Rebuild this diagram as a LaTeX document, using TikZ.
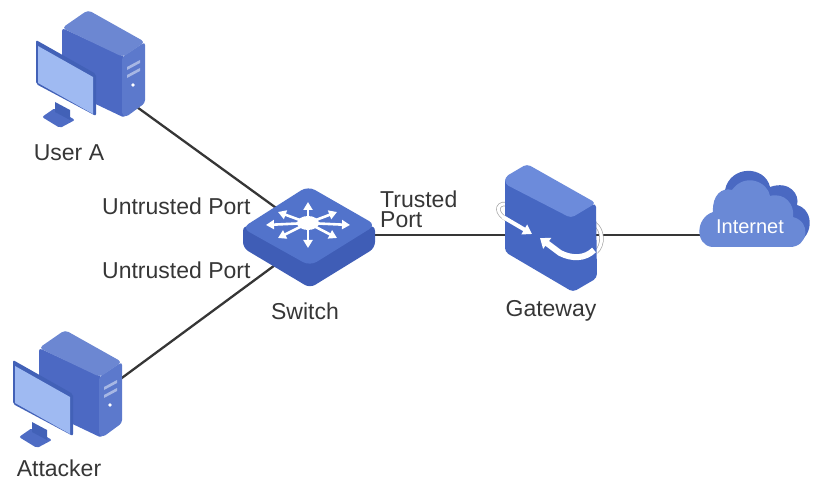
\documentclass[tikz,border=0pt]{standalone}
\usepackage{fontspec}
\setmainfont{Liberation Sans}
\usetikzlibrary{arrows.meta}

\definecolor{towertop}{HTML}{6C87D2}
\definecolor{towerleft}{HTML}{4C69C3}
\definecolor{towerright}{HTML}{5C79CC}
\definecolor{screenblue}{HTML}{9FBAF2}
\definecolor{framedark}{HTML}{4261B7}
\definecolor{standblue}{HTML}{4E6CC4}
\definecolor{switchtop}{HTML}{5273CB}
\definecolor{switchside}{HTML}{3F5DB6}
\definecolor{gatetop}{HTML}{6C8BDB}
\definecolor{gatebody}{HTML}{4667C2}
\definecolor{cloudback}{HTML}{4A69C2}
\definecolor{cloudfront}{HTML}{6A89D6}
\definecolor{inktext}{HTML}{363636}

\tikzset{
  link/.style={draw=inktext,line width=2.3pt},
  caption/.style={text=inktext,font=\fontsize{23}{26}\selectfont,inner sep=0pt},
  spoke/.style={white,line width=2.6pt,-{Triangle[length=8pt,width=9pt]}},
  pc/.pic={
    % tower
    \fill[towerleft,rounded corners=3pt] (62,28) -- (125,57) -- (125,118) -- (62,88) -- cycle;
    \fill[towerright,rounded corners=3pt] (122,57) -- (145,42) -- (145,103) -- (126,117) -- (122,115) -- cycle;
    \fill[towertop,rounded corners=4pt] (62,28) -- (88,10) -- (145,42) -- (123,57) -- cycle;
    \fill[towertop!60!white] (127,67) -- (140,60) -- (140,63) -- (127,70) -- cycle;
    \fill[towertop!60!white] (127,75) -- (140,68) -- (140,71) -- (127,78) -- cycle;
    \fill[white] (133,85) circle (1.8);
    % stand
    \fill[standblue,rounded corners=2pt] (42,117) -- (55,108) -- (75,120) -- (60,128) -- cycle;
    \fill[framedark] (55,102) -- (70,110) -- (70,120) -- (55,112) -- cycle;
    % monitor
    \fill[framedark,rounded corners=2pt] (36,40) -- (96,74) -- (96,116) -- (36,84) -- cycle;
    \fill[screenblue] (38,46) -- (93,77) -- (93,114) -- (38,83) -- cycle;
  },
  switchbox/.pic={
    \fill[switchside,rounded corners=6pt] (243,225) -- (243,248) -- (310,288) -- (375,248) -- (375,225) -- (310,240) -- cycle;
    \fill[switchtop,rounded corners=8pt] (308,186) -- (242,228) -- (310,266) -- (376,225) -- cycle;
    \fill[white] (308,223) ellipse (11 and 7);
    \foreach \tipx/\tipy in {308/202,308/248,266/225,350/225,278/212,337/212,278/238,337/238}
      \draw[spoke] (308,223) -- (\tipx,\tipy);
  },
  gatebox/.pic={
    \draw[draw=gray!70,double=white,double distance=3pt,line width=.7pt] (506,204) .. controls (496,203) and (495,214) .. (508,220);
    \draw[draw=gray!70,double=white,double distance=3pt,line width=.7pt] (596,252) .. controls (604,245) and (603,230) .. (595,224);
    \fill[gatebody,rounded corners=4pt] (505,177) -- (505,252) -- (573,292) -- (597,278) -- (596,203) -- (570,215) -- cycle;
    \fill[gatetop,rounded corners=4pt] (505,184) -- (505,177) -- (527,164) -- (596,203) -- (571,218) -- cycle;
    \draw[white,line width=4pt,-{Triangle[length=9pt,width=11pt]}] (503,217) -- (532,234);
    \draw[white,line width=6pt,-{Triangle[length=9pt,width=13pt]}] (594,250) .. controls (585,259) and (572,259) .. (560,253) -- (540,238);
  },
  cloudshape/.pic={
    \fill[cloudback] (725,190) .. controls (730,165) and (765,165) .. (770,187) .. controls (790,180) and (800,195) .. (797,205) .. controls (815,210) and (815,240) .. (790,246) -- (740,246) -- cycle;
    \fill[cloudfront] (712,247) .. controls (695,245) and (695,218) .. (713,212) .. controls (712,195) and (722,187) .. (732,190) .. controls (745,172) and (768,182) .. (770,196) .. controls (785,192) and (795,205) .. (793,217) .. controls (812,222) and (808,247) .. (790,247) -- cycle;
  },
}

\begin{document}
\begin{tikzpicture}[x=1pt,y=-1pt]
\useasboundingbox (0,0) rectangle (815,484);

% ports
\coordinate (useraport) at (130,102);
\coordinate (attackerport) at (115,383);
\coordinate (switchup) at (290,218);
\coordinate (switchdown) at (290,254);
\coordinate (switchright) at (340,235);
\coordinate (gatewayleft) at (520,235);
\coordinate (gatewayright) at (585,235);
\coordinate (internetleft) at (715,235);

% links
\draw[link] (useraport) -- (switchup);
\draw[link] (attackerport) -- (switchdown);
\draw[link] (switchright) -- (gatewayleft);
\draw[link] (gatewayright) -- (internetleft);

% devices
\pic at (0,0) {pc};
\pic at (-23,320) {pc};
\pic at (0,0) {switchbox};
\pic at (0,0) {gatebox};
\pic at (0,0) {cloudshape};

% labels
\node[caption] (useralabel) at (69,153) {User A};
\node[caption] (attackerlabel) at (59,468) {Attacker};
\node[caption,anchor=west] (portup) at (102,206) {Untrusted Port};
\node[caption,anchor=west] (portdown) at (102,270) {Untrusted Port};
\node[caption,anchor=west] (trustedone) at (380,199) {Trusted};
\node[caption,anchor=west] (trustedtwo) at (380,220) {Port};
\node[caption] (switchlabel) at (305,311) {Switch};
\node[caption] (gatewaylabel) at (551,311) {Gateway};
\node[text=white,font=\fontsize{20}{24}\selectfont,inner sep=0pt] (internetlabel) at (750,227) {Internet};
\end{tikzpicture}
\end{document}
